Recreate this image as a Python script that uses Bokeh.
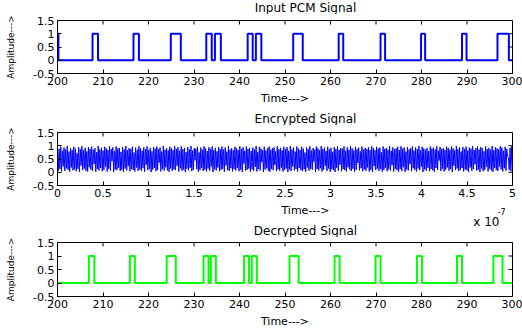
import numpy as np
from bokeh.plotting import figure
from bokeh.layouts import column
from bokeh.models import FixedTicker, CustomJSTickFormatter, Label, Range1d
from bokeh.embed import file_html
from bokeh.resources import INLINE

# ---------------- data ----------------
titles = ["Input PCM Signal", "Encrypted Signal", "Decrypted Signal"]
x_label = "Time--->"
y_label = "Amplitude--->"
exp_base, exp_power = "x 10", "-7"

time_ticks = [200, 210, 220, 230, 240, 250, 260, 270, 280, 290, 300]
enc_ticks = [0, 0.5, 1, 1.5, 2, 2.5, 3, 3.5, 4, 4.5, 5]   # in units of 1e-7 s
amp_ticks = [-0.5, 0, 0.5, 1, 1.5]

# Input PCM: rising / falling edge times of each pulse
pcm_rise = [199.2, 207.7, 216.7, 224.9, 232.7, 234.6, 241.8, 243.6, 251.8, 261.8, 271.0, 279.9, 288.9, 296.7]
pcm_fall = [200.2, 208.9, 217.9, 227.1, 233.9, 235.9, 242.9, 244.8, 253.9, 262.8, 272.0, 280.8, 289.9, 299.2]

# Decrypted signal: rising / falling edge times
dec_rise = [206.9, 215.9, 224.0, 232.1, 233.7, 241.0, 242.7, 251.0, 260.9, 269.9, 279.0, 287.8, 295.8]
dec_fall = [208.1, 217.0, 226.0, 233.2, 234.8, 242.1, 243.8, 253.0, 262.0, 271.0, 280.1, 288.9, 297.8]

# Encrypted signal samples (estimated, in percent of full amplitude), spread over 0 .. 5e-7 s
enc_percent = [
    95, 6, 88, 12, 97, 3, 81, 22, 93, 5, 86, 15, 99, 9, 78, 2, 91, 18, 84, 7,
    96, 11, 89, 4, 72, 13, 94, 1, 87, 25, 98, 8, 83, 14, 92, 6, 79, 3, 95, 19,
    88, 10, 97, 5, 85, 31, 91, 2, 76, 12, 99, 7, 86, 16, 93, 4, 82, 9, 96, 21,
    90, 3, 84, 13, 98, 6, 87, 42, 94, 1, 80, 11, 97, 8, 89, 17, 92, 5, 77, 10,
    95, 2, 86, 14, 99, 7, 83, 23, 91, 4, 88, 12, 96, 9, 74, 3, 93, 18, 85, 6,
    98, 11, 90, 5, 81, 15, 94, 2, 87, 28, 97, 8, 84, 13, 92, 1, 79, 10, 95, 16,
    89, 4, 97, 9, 86, 36, 93, 3, 78, 12, 99, 6, 85, 19, 91, 7, 83, 2, 96, 14,
    90, 5, 84, 11, 98, 8, 88, 24, 94, 3, 81, 15, 97, 6, 87, 10, 92, 1, 76, 13,
    95, 7, 86, 17, 99, 4, 82, 9, 91, 45, 89, 12, 96, 2, 75, 8, 93, 16, 85, 5,
    98, 10, 90, 3, 80, 14, 94, 6, 88, 21, 97, 1, 84, 11, 92, 7, 79, 18, 95, 4,
    87, 9, 97, 13, 86, 2, 93, 26, 78, 8, 99, 5, 85, 15, 91, 3, 83, 12, 96, 7,
    90, 16, 84, 4, 98, 10, 88, 1, 94, 33, 81, 6, 97, 9, 87, 14, 92, 2, 80, 11,
    93, 5, 86, 20, 99, 3, 77, 12, 95, 7, 89, 38, 84, 1, 96, 10, 82, 15, 91, 6,
    97, 2, 85, 13, 90, 8, 94, 27, 79, 4, 98, 11, 87, 6, 92, 17, 83, 3, 96, 9,
    88, 14, 95, 1, 81, 10, 99, 5, 86, 22, 93, 7, 78, 12, 97, 3, 90, 16, 84, 8,
    96, 4, 89, 11, 74, 2, 94, 18, 87, 6, 98, 13, 82, 9, 91, 40, 85, 1, 97, 12,
    90, 7, 83, 15, 99, 3, 88, 10, 93, 24, 80, 5, 96, 14, 86, 2, 92, 11, 77, 8,
    95, 1, 87, 17, 98, 6, 84, 29, 91, 4, 89, 12, 97, 8, 81, 3, 94, 19, 85, 10,
    99, 5, 90, 13, 82, 2, 96, 9, 88, 35, 93, 7, 79, 15, 97, 4, 86, 11, 92, 6,
    87, 18, 95, 3, 84, 10, 98, 1, 91, 23, 83, 8, 96, 14, 89, 5, 93, 12, 76, 2,
    97, 9, 88, 16, 92, 4, 85, 11, 99, 6, 81, 27, 94, 3, 87, 13, 90, 8, 96, 1,
    84, 12, 98, 5, 89, 19, 93, 2, 78, 10, 95, 7, 86, 31, 91, 4, 97, 15, 82, 9,
    94, 3, 87, 14, 99, 8, 83, 21, 96, 1, 90, 11, 85, 6, 92, 17, 80, 4, 97, 12,
    89, 7, 93, 2, 86, 16, 98, 9, 81, 44, 95, 5, 88, 13, 91, 3, 84, 10, 96, 18,
    92, 6, 85, 12, 97, 1, 90, 25, 83, 8, 99, 14, 87, 4, 94, 9, 78, 16, 95, 3,
    88, 11, 96, 7, 82, 2, 93, 18, 89, 5, 98, 12, 84, 30, 91, 6, 97, 10, 86, 1,
    95, 14, 90, 4, 79, 9, 97, 20, 87, 3, 92, 13, 85, 7, 99, 2, 83, 17, 94, 8,
    90, 5, 86, 22, 98, 11, 93, 3, 81, 15, 96, 6, 88, 60, 55, 9, 92, 4, 97, 12,
]
enc_values = np.array(enc_percent) / 100.0
enc_t = np.linspace(0, 5, len(enc_values))  # sample grid, units of 1e-7 s


def step_points(rise, fall, start, end):
    xs, ys = [start], [0]
    for r, f in zip(rise, fall):
        xs += [r, r, f, f]
        ys += [0, 1, 1, 0]
    xs.append(end)
    ys.append(0)
    return xs, ys


FONT = "DejaVu Sans"
W = 522
LEFT, RIGHT = 57, 10
FRAME_CX = LEFT + (W - LEFT - RIGHT) / 2
fmt = CustomJSTickFormatter(code="return String(tick);")
Y0, Y1 = -0.5, 1.5


def text_strip(height, items):
    """A thin canvas (frame = whole canvas, pixel coordinates, y downwards) holding texts."""
    s = figure(width=W, height=height, output_backend="svg", toolbar_location=None, title=None,
               x_range=Range1d(0, W), y_range=Range1d(height, 0),
               x_axis_location=None, y_axis_location=None, min_border=0,
               outline_line_color=None, background_fill_color="white", border_fill_color="white")
    s.xgrid.grid_line_color = None
    s.ygrid.grid_line_color = None
    for text, x, y, size, align in items:
        s.add_layout(Label(x=x, y=y, text=text, text_font=FONT, text_font_size=size,
                           text_align=align, text_baseline="middle", text_color="black"))
    return s


def make_fig(height, top, bottom, x0, x1, xticks, xlabel, label_standoff):
    p = figure(width=W, height=height, output_backend="svg", toolbar_location=None, title=None,
               x_range=Range1d(x0, x1), y_range=Range1d(Y0, Y1),
               min_border_left=LEFT, min_border_right=RIGHT, min_border_top=top, min_border_bottom=bottom,
               background_fill_color="white", border_fill_color="white")
    p.xgrid.grid_line_color = None
    p.ygrid.grid_line_color = None
    p.outline_line_color = "black"
    p.outline_line_alpha = 1.0

    p.xaxis.ticker = FixedTicker(ticks=xticks, minor_ticks=[])
    p.yaxis.ticker = FixedTicker(ticks=amp_ticks, minor_ticks=[])
    if xlabel:
        p.xaxis.axis_label = xlabel
        p.xaxis.axis_label_standoff = label_standoff
    p.yaxis.axis_label = y_label
    p.yaxis.axis_label_standoff = 14
    for ax in p.axis:
        ax.formatter = fmt
        ax.major_tick_in = 4
        ax.major_tick_out = 0
        ax.minor_tick_line_color = None
        ax.axis_line_color = "black"
        ax.major_tick_line_color = "black"
        ax.major_label_text_font = FONT
        ax.major_label_text_font_size = "11px"
        ax.major_label_text_color = "black"
        ax.major_label_standoff = 3
        ax.axis_label_text_font = FONT
        ax.axis_label_text_font_size = "11px"
        ax.axis_label_text_font_style = "normal"
        ax.axis_label_text_color = "black"
    p.yaxis.axis_label_text_font_size = "9px"

    # MATLAB-style box ticks on the top and right edges (half of each dash is clipped by the frame)
    p.scatter(xticks, [Y1] * len(xticks), marker="dash", angle=np.pi / 2, size=8,
              line_color="black", line_width=1)
    p.scatter([x1] * len(amp_ticks), amp_ticks, marker="dash", size=8,
              line_color="black", line_width=1)
    return p


s1 = text_strip(14, [(titles[0], FRAME_CX, 7, "12px", "center")])

p1 = make_fig(93, 6, 34, 200, 300, time_ticks, x_label, 4)
xs, ys = step_points(pcm_rise, pcm_fall, 199.0, 300.0)
p1.line(xs, ys, line_color="#0000ff", line_width=2)

s2 = text_strip(18, [(titles[1], FRAME_CX, 11, "12px", "center")])

p2 = make_fig(76, 7, 16, 0, 5, enc_ticks, None, 0)
p2.line(enc_t, enc_values, line_color="#0000ff", line_width=1)

s3 = text_strip(36, [
    (x_label, FRAME_CX, 9, "11px", "center"),
    (exp_power, 505, 10, "8px", "left"),
    (exp_base, 477, 20, "12px", "left"),
    (titles[2], FRAME_CX, 29, "12px", "center"),
])

p3 = make_fig(93, 5, 34, 200, 300, time_ticks, x_label, 4)
xs, ys = step_points(dec_rise, dec_fall, 200.0, 300.0)
p3.line(xs, ys, line_color="#00ff00", line_width=2)

layout = column(s1, p1, s2, p2, s3, p3, spacing=0)
open("out.html", "w").write(file_html(layout, INLINE))
